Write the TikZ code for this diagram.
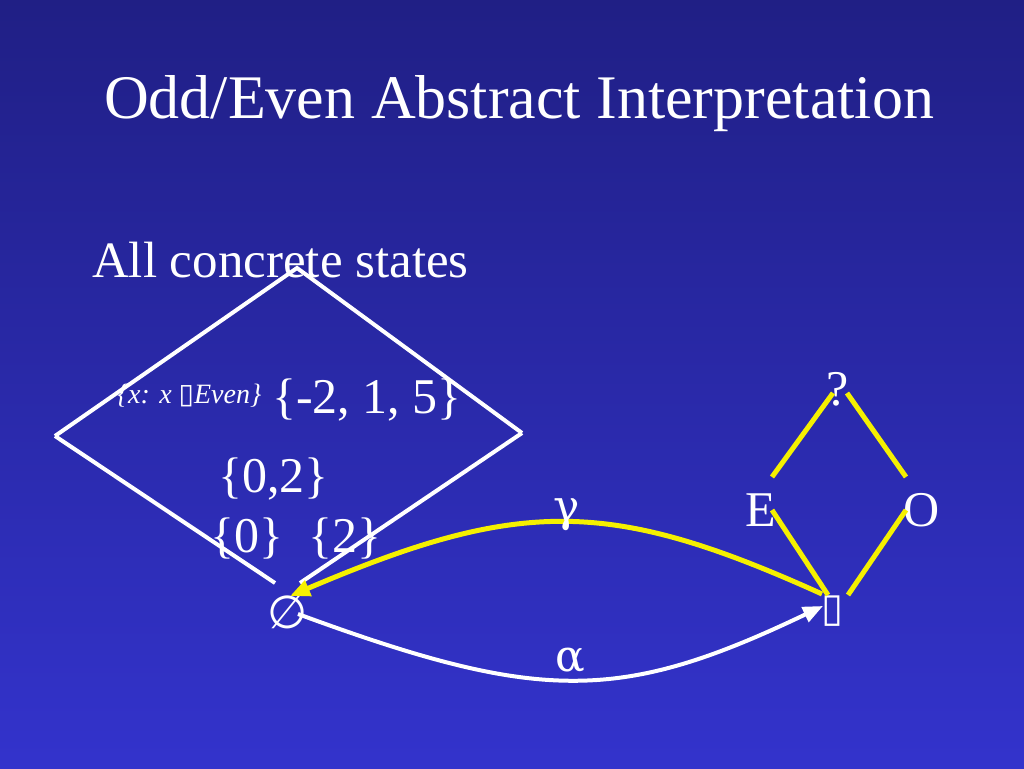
\documentclass[tikz,border=0pt]{standalone}
\usepackage{fontspec}
\setmainfont{Liberation Serif}
\newfontfamily\symfont{DejaVu Sans}
\newfontfamily\grkfont{DejaVu Serif}
\usetikzlibrary{arrows.meta}
\definecolor{bgtop}{RGB}{32,31,133}
\definecolor{bgbot}{RGB}{51,51,204}
\definecolor{ylw}{RGB}{245,240,0}
\begin{document}
\begin{tikzpicture}[x=1pt,y=-1pt,
  lbl/.style={text=white,inner sep=0pt,outer sep=0pt,anchor=base west},
  big/.style={font=\fontsize{50}{50}\selectfont},
  grk/.style={font=\grkfont\fontsize{44}{44}\selectfont},
  wline/.style={draw=white,line width=4pt},
  yline/.style={draw=ylw,line width=5pt},
  tipY/.style={-{Triangle[length=20pt,width=16pt]}},
]
\useasboundingbox (0,0) rectangle (1024,768);
\shade[top color=bgtop,bottom color=bgbot] (0,0) rectangle (1024,768);

% title and heading
\node[text=white,inner sep=0pt,anchor=base,font=\fontsize{62}{62}\selectfont] (title) at (519,118) {Odd/Even Abstract Interpretation};
\node[lbl,font=\fontsize{51}{51}\selectfont] (all) at (92,277) {All concrete states};

% concrete lattice (diamond)
\coordinate (top) at (297,268);
\coordinate (lft) at (55,436);
\coordinate (rgt) at (522,433);
\coordinate (bl) at (275,583);
\coordinate (br) at (300,583);
\draw[wline] (lft) -- (top) -- (rgt);
\draw[wline] (lft) -- (bl);
\draw[wline] (rgt) -- (br);

\node[lbl,font=\fontsize{28}{28}\selectfont\itshape] (evens) at (117,403) {\{x: x {\symfont\fontsize{28}{28}\selectfont ▯}Even\}};
\node[lbl,big] (s125) at (272,413) {\{-2, 1, 5\}};
\node[lbl,big] (s02) at (218,492) {\{0,2\}};
\node[lbl,big] (s0) at (210,552) {\{0\}};
\node[lbl,big] (s2) at (308,552) {\{2\}};
\node[text=white,inner sep=0pt,font=\symfont\fontsize{46}{46}\selectfont] (empty) at (288,612) {∅};

% abstract lattice
\node[lbl,big] (q) at (826,405) {?};
\node[lbl,big] (E) at (745,526) {E};
\node[lbl,big] (O) at (903,526) {O};
\node[text=white,inner sep=0pt,font=\symfont\fontsize{40}{40}\selectfont] (bot) at (832,611) {▯};

\draw[yline] (833,393) -- (772,477);
\draw[yline] (847,393) -- (906,477);
\draw[yline] (772,510) -- (828,595);
\draw[yline] (906,510) -- (848,595);

% gamma / alpha
\coordinate (gs) at (822,594);
\coordinate (ge) at (290,596);
\coordinate (as) at (298,614);
\coordinate (ae) at (823,606);
\draw[yline,tipY] (gs) .. controls (610,498) and (520,498) .. (ge);
\draw[wline,tipY] (as) .. controls (540,703) and (620,703) .. (ae);
\node[text=white,inner sep=0pt,anchor=base,grk] (gamma) at (567,521) {γ};
\node[text=white,inner sep=0pt,anchor=base,grk] (alpha) at (570,671) {α};
\end{tikzpicture}
\end{document}
